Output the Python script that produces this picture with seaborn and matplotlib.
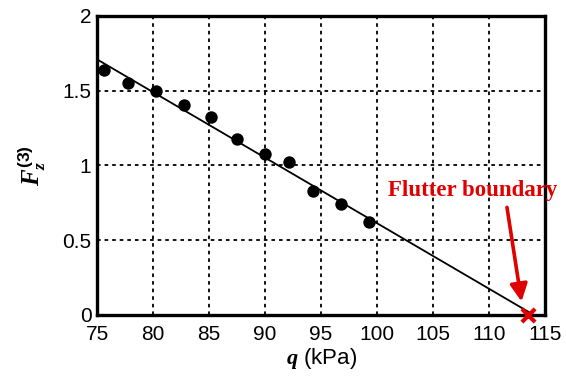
import matplotlib
matplotlib.use("Agg")
import matplotlib.pyplot as plt
import seaborn as sns
import pandas as pd

# data
q_kpa = [75.6, 77.8, 80.3, 82.8, 85.2, 87.5, 90.0, 92.1, 94.3, 96.8, 99.3]
fz3 = [1.64, 1.555, 1.495, 1.405, 1.325, 1.18, 1.075, 1.02, 0.83, 0.74, 0.625]
fit_q = [75.0, 114.0]
fit_fz = [1.71, 0.0]
flutter_q = [113.5]
flutter_fz = [0.0]
x_ticks = [75, 80, 85, 90, 95, 100, 105, 110, 115]
y_ticks = [0, 0.5, 1, 1.5, 2]
y_tick_labels = ["0", "0.5", "1", "1.5", "2"]

sns.set_theme(style="white")
plt.rcParams["font.family"] = ["Liberation Sans", "DejaVu Sans"]
plt.rcParams["mathtext.fontset"] = "custom"
plt.rcParams["mathtext.it"] = "Liberation Serif:italic:bold"
plt.rcParams["mathtext.bf"] = "Liberation Sans:bold"
plt.rcParams["mathtext.rm"] = "Liberation Sans"

fig = plt.figure(figsize=(5.66, 3.78), dpi=100)
ax = fig.add_axes([0.1714, 0.1667, 0.963 - 0.1714, 0.9577 - 0.1667])

df = pd.DataFrame({"q": q_kpa, "F": fz3})
fit = pd.DataFrame({"q": fit_q, "F": fit_fz})

sns.lineplot(data=fit, x="q", y="F", ax=ax, color="black", linewidth=1.3, zorder=3)
sns.scatterplot(data=df, x="q", y="F", ax=ax, color="black", s=80, edgecolor="black",
                linewidth=0, zorder=4)
ax.scatter(flutter_q, flutter_fz, marker="x", s=90, color="#e00000", linewidths=3,
           zorder=5, clip_on=False)

ax.set_xlim(75, 115)
ax.set_ylim(0, 2)
ax.set_xticks(x_ticks)
ax.set_yticks(y_ticks)
ax.set_yticklabels(y_tick_labels)
ax.grid(True, color="black", linestyle=(0, (2, 2.2)), linewidth=1.3)
ax.set_axisbelow(True)
for s in ax.spines.values():
    s.set_color("black")
    s.set_linewidth(2.4)
ax.tick_params(axis="both", direction="in", length=0, labelsize=15, colors="black", pad=4)
ax.tick_params(axis="x", pad=7)

ax.set_xlabel("$q$ (kPa)", fontsize=16, color="black", labelpad=2)
ax.set_ylabel(r"$F_z^{\mathbf{(3)}}$", fontsize=18, color="black", labelpad=10)

ax.text(108.5, 0.83, "Flutter boundary", ha="center", va="center", fontsize=16.5,
        fontweight="bold", family=["Liberation Serif"], color="#e00000", zorder=6)
ax.annotate("", xy=(112.9, 0.09), xytext=(111.6, 0.72),
            arrowprops=dict(arrowstyle="-|>", color="#e00000", lw=2.6,
                            mutation_scale=26, shrinkA=0, shrinkB=0))

fig.savefig("out.png", dpi=100)
